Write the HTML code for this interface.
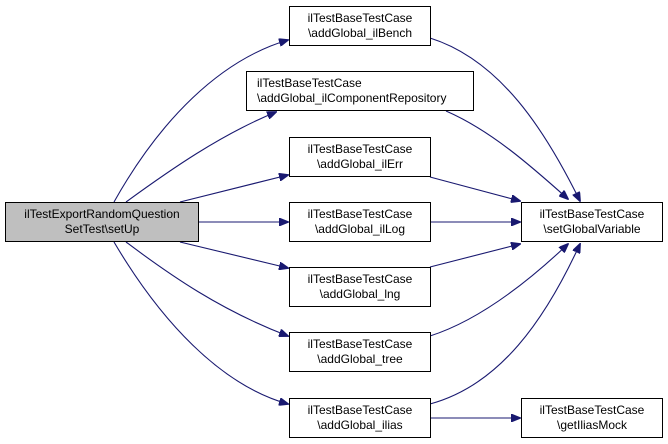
<!DOCTYPE html>
<html><head><meta charset="utf-8"><style>
html,body{margin:0;padding:0;background:#fff;}
svg{display:block;}
text{font-family:"Liberation Sans",Helvetica,sans-serif;font-size:12px;fill:#000;}
</style></head><body>
<svg width="668" height="444" viewBox="0 0 668 444" xmlns="http://www.w3.org/2000/svg">
<defs><marker id="a" markerWidth="10" markerHeight="8" refX="9" refY="4" orient="auto" markerUnits="userSpaceOnUse"><path d="M0,0 L10,4 L0,8 Z" fill="#191970" stroke="#191970"/></marker></defs>
<g fill="none" stroke="#191970" stroke-width="1.1">
<path d="M114,202 C160,120 220,60 288,40" marker-end="url(#a)"/>
<path d="M126,202 C170,170 220,135 276,112" marker-end="url(#a)"/>
<path d="M180,202 L288,175" marker-end="url(#a)"/>
<path d="M199,222 L288,222" marker-end="url(#a)"/>
<path d="M180,242 L288,268" marker-end="url(#a)"/>
<path d="M126,242 C170,275 220,310 288,336" marker-end="url(#a)"/>
<path d="M114,242 C160,320 220,385 288,404" marker-end="url(#a)"/>
<path d="M430,38 C500,60 545,130 580,201" marker-end="url(#a)"/>
<path d="M446,111 C490,130 530,165 568,199" marker-end="url(#a)"/>
<path d="M430,177 L520,201" marker-end="url(#a)"/>
<path d="M430,222 L520,222" marker-end="url(#a)"/>
<path d="M430,267 L520,244" marker-end="url(#a)"/>
<path d="M430,336 C480,320 530,280 568,244" marker-end="url(#a)"/>
<path d="M430,404 C500,385 545,320 580,244" marker-end="url(#a)"/>
<path d="M430,418 L520,418" marker-end="url(#a)"/>
</g>
<g stroke="#000" stroke-width="1" fill="#fff">
<rect x="5.5" y="202.5" width="193" height="39" fill="#bfbfbf"/>
<rect x="289.5" y="6.5" width="141" height="39"/>
<rect x="246.5" y="71.5" width="227" height="39"/>
<rect x="289.5" y="137.5" width="141" height="39"/>
<rect x="289.5" y="202.5" width="141" height="39"/>
<rect x="289.5" y="267.5" width="141" height="39"/>
<rect x="289.5" y="332.5" width="141" height="39"/>
<rect x="289.5" y="398.5" width="141" height="39"/>
<rect x="521.5" y="202.5" width="141" height="39"/>
<rect x="521.5" y="398.5" width="141" height="39"/>
</g>
<g text-anchor="middle">
<text x="102" y="218">ilTestExportRandomQuestion</text><text x="102" y="233">SetTest\setUp</text>
<text x="360" y="22">ilTestBaseTestCase</text><text x="360" y="37">\addGlobal_ilBench</text>
<text x="360" y="218">ilTestBaseTestCase</text><text x="360" y="233">\addGlobal_ilLog</text>
<text x="360" y="153">ilTestBaseTestCase</text><text x="360" y="168">\addGlobal_ilErr</text>
<text x="360" y="283">ilTestBaseTestCase</text><text x="360" y="298">\addGlobal_lng</text>
<text x="360" y="348">ilTestBaseTestCase</text><text x="360" y="363">\addGlobal_tree</text>
<text x="360" y="414">ilTestBaseTestCase</text><text x="360" y="429">\addGlobal_ilias</text>
<text x="592" y="218">ilTestBaseTestCase</text><text x="592" y="233">\setGlobalVariable</text>
<text x="592" y="414">ilTestBaseTestCase</text><text x="592" y="429">\getIliasMock</text>
</g>
<text x="257" y="87">ilTestBaseTestCase</text><text x="257" y="102">\addGlobal_ilComponentRepository</text>
</svg>
</body></html>
